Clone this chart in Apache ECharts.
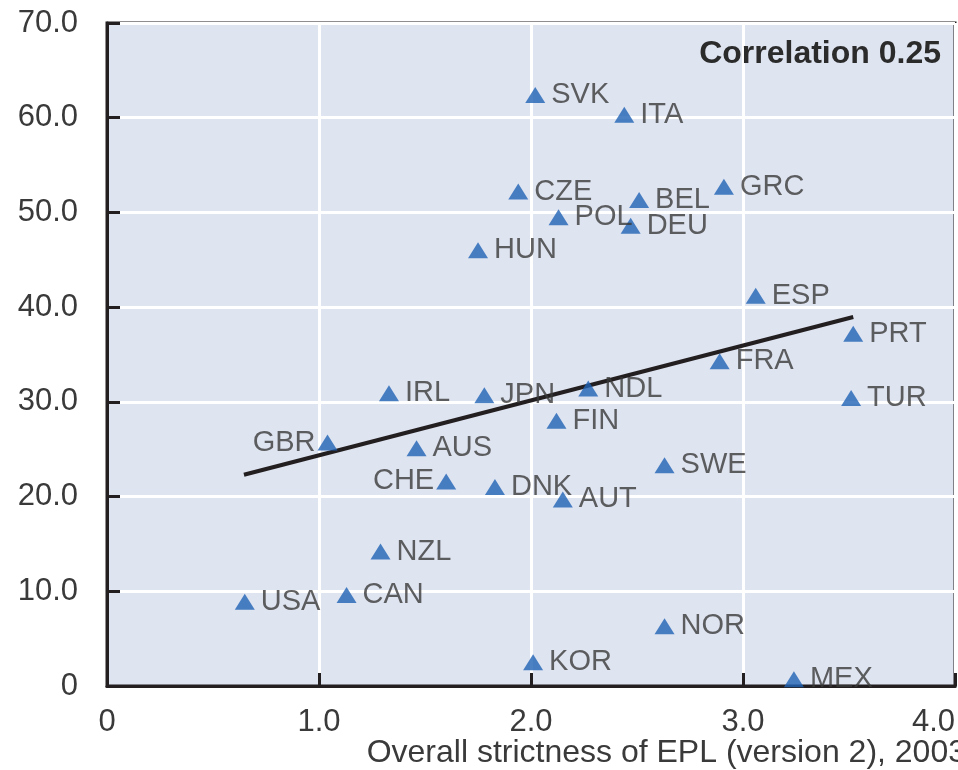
<!DOCTYPE html>
<html>
<head>
<meta charset="utf-8">
<script src="https://cdn.jsdelivr.net/npm/echarts@6/dist/echarts.min.js"></script>
<style>
  html, body { margin: 0; padding: 0; background: #fff; }
  #chart { width: 958px; height: 770px; }
</style>
</head>
<body>
<div id="chart"></div>
<script>
// country codes, EPL strictness (x) and y values
let countries = ['SVK', 'ITA', 'CZE', 'POL', 'BEL', 'DEU', 'GRC', 'HUN', 'ESP', 'PRT', 'FRA', 'TUR',
    'IRL', 'JPN', 'NDL', 'FIN', 'GBR', 'AUS', 'CHE', 'DNK', 'AUT', 'SWE', 'NZL', 'USA', 'CAN', 'KOR', 'NOR', 'MEX'];
let epl = [2.02, 2.44, 1.94, 2.13, 2.51, 2.47, 2.91, 1.75, 3.06, 3.52, 2.89, 3.51,
    1.33, 1.78, 2.27, 2.12, 1.04, 1.46, 1.60, 1.83, 2.15, 2.63, 1.29, 0.65, 1.13, 2.01, 2.63, 3.24];
let values = [62.4, 60.3, 52.2, 49.5, 51.3, 48.6, 52.7, 46.0, 41.2, 37.2, 34.3, 30.4,
    30.9, 30.7, 31.4, 28.0, 25.7, 25.1, 21.6, 21.0, 19.7, 23.3, 14.2, 8.9, 9.6, 2.5, 6.3, 0.7];
let trendX = [0.646, 3.52];
let trendY = [22.3, 38.96];
let leftLabels = ['GBR', 'CHE'];

let textColor = '#3a3a3a';
let fontFamily = '"Liberation Sans", Arial, sans-serif';

function fmt(v) {
    return v === 0 ? '0' : v.toFixed(1);
}

let points = countries.map(function (c, i) {
    let item = {name: c, value: [epl[i], values[i]]};
    if (leftLabels.indexOf(c) >= 0) {
        item.label = {position: 'left', distance: 2};
    }
    return item;
});

let trend = trendX.map(function (x, i) {
    return [x, trendY[i]];
});

let chart = echarts.init(document.getElementById('chart'));
let option = {
    backgroundColor: '#ffffff',
    animation: false,
    title: [{
        text: 'Correlation 0.25',
        right: 17,
        top: 37,
        padding: 0,
        textStyle: {fontFamily: fontFamily, fontSize: 32, fontWeight: 'bold', color: '#2b2b2b', lineHeight: 34}
    }, {
        text: 'Overall strictness of EPL (version 2), 2003',
        right: -8,
        top: 736,
        padding: 0,
        textStyle: {fontFamily: fontFamily, fontSize: 32, fontWeight: 'normal', color: textColor, lineHeight: 34}
    }],
    grid: {
        left: 107,
        right: 3,
        top: 23,
        bottom: 84,
        show: true,
        backgroundColor: '#dfe4f1',
        borderColor: '#231f20',
        borderWidth: 3
    },
    xAxis: {
        type: 'value',
        min: 0,
        max: 4,
        interval: 1,
        axisLine: {show: true, onZero: false, lineStyle: {color: '#231f20', width: 3}},
        axisTick: {show: true, inside: true, length: 13, lineStyle: {color: '#231f20', width: 3}},
        splitLine: {show: true, lineStyle: {color: '#ffffff', width: 3}},
        axisLabel: {
            margin: 21,
            fontFamily: fontFamily,
            fontSize: 31,
            color: textColor,
            alignMaxLabel: 'right',
            formatter: fmt
        }
    },
    yAxis: {
        type: 'value',
        min: 0,
        max: 70,
        interval: 10,
        axisLine: {show: true, lineStyle: {color: '#231f20', width: 3}},
        axisTick: {show: true, inside: true, length: 13, lineStyle: {color: '#231f20', width: 3}},
        splitLine: {show: true, lineStyle: {color: '#ffffff', width: 3}},
        axisLabel: {
            margin: 29,
            fontFamily: fontFamily,
            fontSize: 31,
            color: textColor,
            formatter: fmt
        }
    },
    series: [{
        type: 'line',
        data: trend,
        symbol: 'none',
        lineStyle: {color: '#231f20', width: 4},
        z: 3
    }, {
        type: 'scatter',
        data: points,
        symbol: 'triangle',
        symbolSize: [20, 16],
        itemStyle: {color: '#1f63b5'},
        label: {
            show: true,
            position: 'right',
            distance: 6,
            offset: [0, -4],
            formatter: '{b}',
            fontFamily: fontFamily,
            fontSize: 29,
            color: textColor
        },
        labelLayout: {hideOverlap: false},
        z: 4
    }]
};
chart.setOption(option);
</script>
</body>
</html>
